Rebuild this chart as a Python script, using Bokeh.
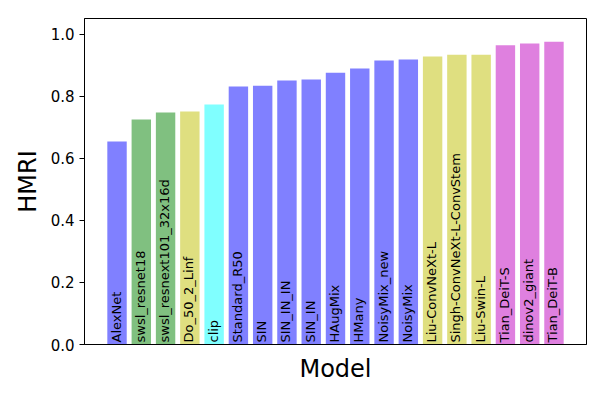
import math
from bokeh.plotting import figure
from bokeh.models import ColumnDataSource, Range1d, FixedTicker, CustomJSTickFormatter
from bokeh.core.properties import value
from bokeh.embed import file_html
from bokeh.resources import INLINE

models = ["AlexNet", "swsl_resnet18", "swsl_resnext101_32x16d", "Do_50_2_Linf", "clip",
          "Standard_R50", "SIN", "SIN_IN_IN", "SIN_IN", "HAugMix", "HMany",
          "NoisyMix_new", "NoisyMix", "Liu-ConvNeXt-L", "Singh-ConvNeXt-L-ConvStem",
          "Liu-Swin-L", "Tian_DeiT-S", "dinov2_giant", "Tian_DeiT-B"]
hmri = [0.655, 0.726, 0.748, 0.752, 0.774, 0.832, 0.835, 0.852, 0.855, 0.877, 0.890,
        0.916, 0.919, 0.929, 0.935, 0.935, 0.965, 0.971, 0.977]
colors = ["#8080FF", "#80C080", "#80C080", "#DFDF80", "#80FFFF",
          "#8080FF", "#8080FF", "#8080FF", "#8080FF", "#8080FF", "#8080FF",
          "#8080FF", "#8080FF", "#DFDF80", "#DFDF80",
          "#DFDF80", "#DF80DF", "#DF80DF", "#DF80DF"]
yticks = [0.0, 0.2, 0.4, 0.6, 0.8, 1.0]

idx = list(range(len(models)))
src = ColumnDataSource(dict(x=idx, top=hmri, color=colors, name=models,
                            y0=[0.0] * len(models)))

n = len(models)
span = (n - 1) + 0.8
pad = 0.05 * span

p = figure(frame_width=502, frame_height=326, output_backend="svg", toolbar_location=None,
           x_range=Range1d(-0.4 - pad, n - 1 + 0.4 + pad), y_range=Range1d(0, 1.0516),
           min_border_left=84, min_border_top=18, min_border_right=6, min_border_bottom=48)

p.vbar(x="x", top="top", width=0.8, color="color", line_color=None, source=src)
p.text(x="x", y="y0", text="name", angle=math.pi / 2, text_align="left",
       text_baseline="middle", text_font=value("DejaVu Sans"), text_font_size="13px",
       text_color="black", x_offset=-1, y_offset=-2, source=src)

p.grid.visible = False
p.outline_line_color = "black"
p.outline_line_width = 1
p.outline_line_alpha = 1

p.yaxis.ticker = FixedTicker(ticks=yticks)
p.yaxis.formatter = CustomJSTickFormatter(code="return tick.toFixed(1);")
p.yaxis.major_tick_out = 5
p.yaxis.major_tick_in = 0
p.yaxis.minor_tick_line_color = None
p.yaxis.major_label_text_font = "DejaVu Sans"
p.yaxis.major_label_text_font_size = "15px"
p.yaxis.major_label_text_color = "black"
p.yaxis.major_label_standoff = 5
p.yaxis.axis_label = "HMRI"
p.yaxis.axis_label_text_font = "DejaVu Sans"
p.yaxis.axis_label_text_font_size = "24px"
p.yaxis.axis_label_text_font_style = "normal"
p.yaxis.axis_label_text_color = "black"
p.yaxis.axis_label_standoff = 6
p.yaxis.axis_line_color = "black"
p.yaxis.major_tick_line_color = "black"

p.xaxis.ticker = FixedTicker(ticks=[])
p.xaxis.major_tick_line_color = None
p.xaxis.minor_tick_line_color = None
p.xaxis.axis_label = "Model"
p.xaxis.axis_label_text_font = "DejaVu Sans"
p.xaxis.axis_label_text_font_size = "24px"
p.xaxis.axis_label_text_font_style = "normal"
p.xaxis.axis_label_text_color = "black"
p.xaxis.axis_label_standoff = 10
p.xaxis.axis_line_color = "black"

open("out.html", "w").write(file_html(p, INLINE))
